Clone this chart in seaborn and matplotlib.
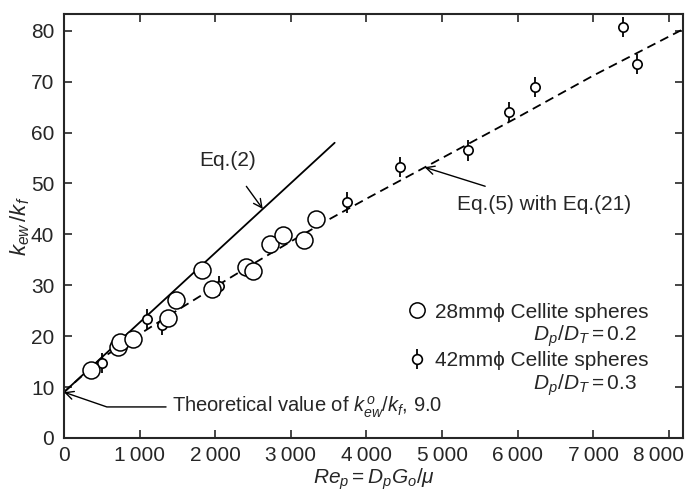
import numpy as np
import pandas as pd
import seaborn as sns
import matplotlib
matplotlib.use("Agg")
import matplotlib.pyplot as plt
import matplotlib.transforms as mtransforms
from matplotlib.lines import Line2D
from matplotlib.legend_handler import HandlerTuple

# 28 mm spheres (open circles)
re_28 = [357, 710, 740, 911, 1374, 1480, 1823, 1955, 2404, 2497, 2721, 2893, 3170, 3329]
k_28 = [13.4, 17.8, 18.8, 19.5, 23.5, 27.1, 33.1, 29.2, 33.5, 32.9, 38.2, 39.8, 38.8, 43.0]

# 42 mm spheres (circles with bars)
re_42 = [502, 1096, 1295, 2048, 3738, 4440, 5337, 5892, 6235, 7398, 7583]
k_42 = [14.7, 23.4, 22.2, 29.8, 46.3, 53.2, 56.5, 64.0, 69.0, 80.8, 73.5]
err_42 = 2.0

# Eq.(2) straight line
eq2_x = [0, 3580]
eq2_y = [9.0, 58.0]

# Eq.(5) with Eq.(21), dashed curve
eq5_x = [0, 500, 1000, 1500, 2000, 2500, 3000, 3500, 4000, 4500, 5000, 6000, 7000, 8200]
eq5_y = [9.0, 15.7, 20.4, 25.1, 29.7, 34.2, 38.6, 42.9, 47.0, 51.0, 55.0, 63.0, 71.2, 80.4]

xticks = [0, 1000, 2000, 3000, 4000, 5000, 6000, 7000, 8000]
xticklabels = ["0", "1\u2009000", "2\u2009000", "3\u2009000", "4\u2009000", "5\u2009000", "6\u2009000", "7\u2009000", "8\u2009000"]
yticks = [0, 10, 20, 30, 40, 50, 60, 70, 80]

sns.set_style("ticks")
plt.rcParams['font.family'] = ['Liberation Sans', 'DejaVu Sans']
plt.rcParams['mathtext.fontset'] = 'custom'
plt.rcParams['mathtext.rm'] = 'Liberation Sans'
plt.rcParams['mathtext.it'] = 'Liberation Sans:italic'

fig = plt.figure(figsize=(6.85, 4.93), dpi=100)
ax = fig.add_axes([0.0934, 0.1116, 0.904, 0.86])

df28 = pd.DataFrame({"re": re_28, "k": k_28})
df42 = pd.DataFrame({"re": re_42, "k": k_42})

sns.lineplot(x=eq2_x, y=eq2_y, ax=ax, color="black", lw=1.3)
sns.lineplot(x=eq5_x, y=eq5_y, ax=ax, color="black", lw=1.3, linestyle=(0, (5, 3)))

ax.errorbar(df42["re"], df42["k"], yerr=err_42, fmt="none", ecolor="black", elinewidth=1.3, capsize=0)
sns.scatterplot(data=df42, x="re", y="k", ax=ax, s=45, facecolor="white", edgecolor="black", linewidth=1.2, zorder=5)
sns.scatterplot(data=df28, x="re", y="k", ax=ax, s=150, facecolor="white", edgecolor="black", linewidth=1.1, zorder=6)

ax.set_xlim(0, 8190)
ax.set_ylim(0, 83.3)
ax.set_xticks(xticks)
ax.set_xticklabels(xticklabels)
ax.set_yticks(yticks)
ax.tick_params(direction="in", top=True, right=True, length=6, width=1.2, labelsize=15)
ax.tick_params(axis="x", pad=6)
ax.tick_params(axis="y", pad=7)
# last x label sits a little left so it stays inside the figure
last = ax.get_xticklabels()[-1]
last.set_transform(last.get_transform() + mtransforms.ScaledTranslation(-10 / 100, 0, fig.dpi_scale_trans))
for sp in ax.spines.values():
    sp.set_linewidth(1.5)
    sp.set_visible(True)

ax.set_xlabel(r"$Re_p = D_p G_o/\mu$", fontsize=15, labelpad=1)
ax.set_ylabel(r"$k_{ew}\,/k_f$", fontsize=16, labelpad=-1)

ax.annotate("Eq.(2)", xy=(2629, 45.0), xytext=(2160, 54.6), fontsize=15, ha="center", va="center",
            arrowprops=dict(arrowstyle="->", color="black", lw=1.0, shrinkA=12, shrinkB=0))
ax.annotate("Eq.(5) with Eq.(21)", xy=(4769, 53.2), xytext=(6354, 45.8), fontsize=15, ha="center", va="center",
            arrowprops=dict(arrowstyle="->", color="black", lw=1.0, shrinkA=14, shrinkB=0))
ax.annotate(r"Theoretical value of $k_{ew}^{\,o}/k_f$, 9.0", xy=(0, 9.0), xytext=(1430, 6.1), fontsize=14.5,
            ha="left", va="center",
            arrowprops=dict(arrowstyle="->", color="black", lw=1.0, shrinkA=2, shrinkB=0,
                            connectionstyle="angle,angleA=0,angleB=-19,rad=0"))

h28 = Line2D([], [], marker="o", ls="none", mfc="white", mec="black", ms=11, mew=1.1)
h42 = (Line2D([], [], marker="|", ls="none", color="black", ms=14, mew=1.3),
       Line2D([], [], marker="o", ls="none", mfc="white", mec="black", ms=7, mew=1.2))
blank = Line2D([], [], ls="none")
handles = [h28, blank, h42, blank]
labels = ["28mm\u03d5 Cellite spheres", r"                 $D_p/D_T = 0.2$",
          "42mm\u03d5 Cellite spheres", r"                 $D_p/D_T = 0.3$"]
ax.legend(handles, labels, loc="lower right", bbox_to_anchor=(0.975, 0.05), frameon=False,
          fontsize=15, handlelength=1.0, handletextpad=0.4, labelspacing=0.1,
          handler_map={tuple: HandlerTuple(ndivide=1)})

fig.savefig("out.png", dpi=100)
